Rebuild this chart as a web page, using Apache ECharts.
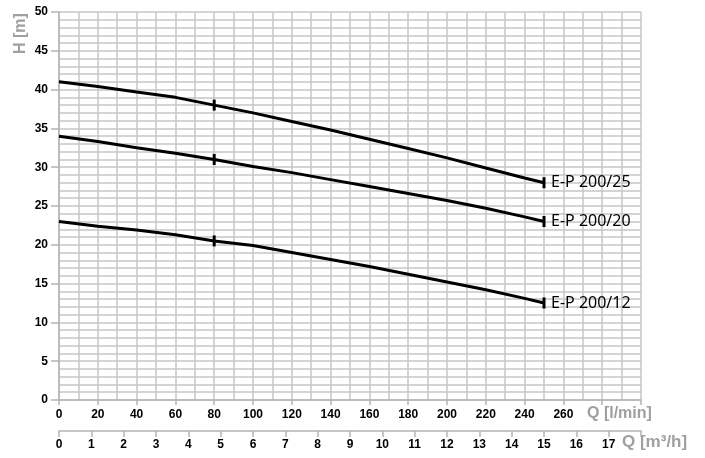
<!DOCTYPE html>
<html>
<head>
<meta charset="utf-8">
<script src="https://cdn.jsdelivr.net/npm/echarts@6/dist/echarts.min.js"></script>
<style>html,body{margin:0;padding:0;background:#fff;}#c{width:705px;height:458px;}</style>
</head>
<body>
<div id="c"></div>
<script>
// Flow rate Q [l/min]
const qLmin = [0, 20, 40, 60, 80, 100, 120, 140, 160, 180, 200, 220, 240, 250];
// Head H [m]
const h25 = [41.0, 40.4, 39.7, 39.0, 38.0, 37.0, 35.9, 34.8, 33.6, 32.4, 31.2, 29.9, 28.6, 28.0];
const h20 = [34.0, 33.3, 32.5, 31.8, 31.0, 30.1, 29.3, 28.4, 27.5, 26.6, 25.7, 24.7, 23.6, 23.0];
const h12 = [23.0, 22.4, 21.9, 21.3, 20.5, 19.9, 19.0, 18.1, 17.2, 16.2, 15.2, 14.2, 13.1, 12.5];
const seriesNames = ['E-P 200/25', 'E-P 200/20', 'E-P 200/12'];
const markQ = [80, 250];
const lminMax = 300, lminStep = 20, lminLastLabel = 260;
const m3hMax = 18, m3hLastLabel = 17;
const hMax = 50, hStep = 5;

const chart = echarts.init(document.getElementById('c'));
const gridColor = '#c6c6c6';
const axisColor = '#b4b4b4';
const labelFont = {color: '#000', fontFamily: '"Liberation Sans Narrow", "Liberation Sans"', fontWeight: 'bold', fontSize: 12};

function mkSeries(name, vals) {
  return {
    name: name,
    type: 'line',
    xAxisIndex: 0,
    data: qLmin.map((q, i) => [q, vals[i]]),
    lineStyle: {color: '#000', width: 3},
    itemStyle: {color: '#000'},
    symbol: 'rect',
    showAllSymbol: true,
    symbolSize: (v) => markQ.indexOf(v[0]) >= 0 ? [3, 11] : 0,
    silent: true,
    animation: false,
    endLabel: {
      show: true,
      formatter: name,
      color: '#000',
      fontFamily: 'Noto Sans',
      fontSize: 16,
      distance: 7
    }
  };
}

chart.setOption({
  animation: false,
  grid: {left: 59, right: 64, top: 12, bottom: 58, containLabel: false},
  xAxis: [
    {
      type: 'value', min: 0, max: lminMax, interval: lminStep, position: 'bottom',
      axisLine: {show: true, lineStyle: {color: axisColor, width: 1.5}},
      axisTick: {show: true, length: 5, lineStyle: {color: axisColor, width: 1.5}},
      axisLabel: Object.assign({margin: 9, formatter: v => v <= lminLastLabel ? String(v) : ''}, labelFont),
      splitLine: {show: true, lineStyle: {color: gridColor, width: 1.5}},
      minorTick: {show: false, splitNumber: 2},
      minorSplitLine: {show: true, lineStyle: {color: gridColor, width: 1.5}}
    },
    {
      type: 'value', min: 0, max: m3hMax, interval: 1, position: 'bottom', offset: 31,
      axisLine: {show: true, onZero: false, lineStyle: {color: axisColor, width: 1.5}},
      axisTick: {show: true, length: 6, lineStyle: {color: axisColor, width: 1.5}},
      axisLabel: Object.assign({margin: 8, formatter: v => v <= m3hLastLabel ? String(v) : ''}, labelFont),
      splitLine: {show: false}
    }
  ],
  yAxis: {
    type: 'value', min: 0, max: hMax, interval: hStep,
    axisLine: {show: true, lineStyle: {color: axisColor, width: 1.5}},
    axisTick: {show: true, length: 8, lineStyle: {color: axisColor, width: 1.5}},
    axisLabel: Object.assign({margin: 11}, labelFont),
    splitLine: {show: true, lineStyle: {color: gridColor, width: 1.5}},
    minorTick: {show: false, splitNumber: 5},
    minorSplitLine: {show: true, lineStyle: {color: gridColor, width: 1.5}}
  },
  graphic: [
    {type: 'text', left: 587, top: 406, style: {text: 'Q [l/min]', fill: '#a0a0a0', font: 'bold 16px "Liberation Sans"'}},
    {type: 'text', left: 622, top: 434, style: {text: 'Q [m³/h]', fill: '#a0a0a0', font: 'bold 17px "Liberation Sans"'}},
    {type: 'text', x: 13, y: 54, rotation: Math.PI / 2, style: {text: 'H [m]', fill: '#a0a0a0', font: 'bold 16px "Liberation Sans"', textAlign: 'left', textVerticalAlign: 'top'}}
  ],
  series: [mkSeries(seriesNames[0], h25), mkSeries(seriesNames[1], h20), mkSeries(seriesNames[2], h12)]
});
</script>
</body>
</html>
